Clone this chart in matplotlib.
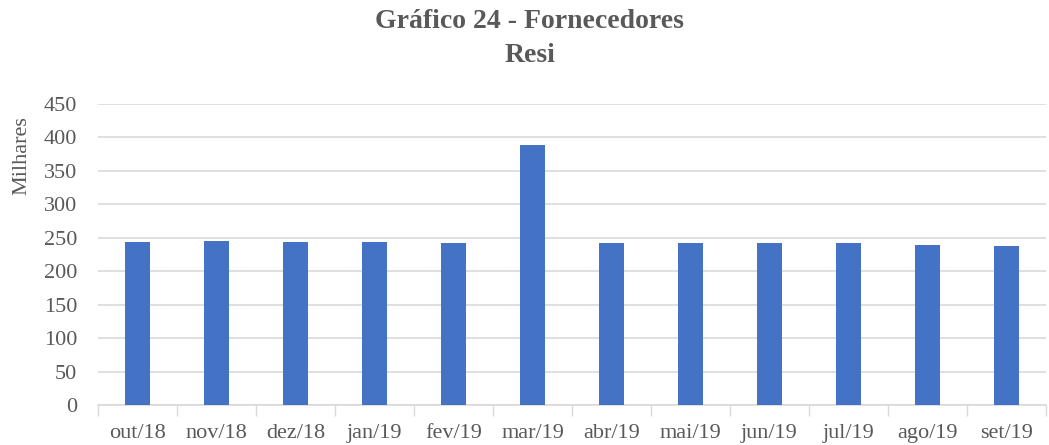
import numpy as np
import matplotlib.pyplot as plt

meses = ['out/18', 'nov/18', 'dez/18', 'jan/19', 'fev/19', 'mar/19',
         'abr/19', 'mai/19', 'jun/19', 'jul/19', 'ago/19', 'set/19']
valores = [244, 245, 243, 243, 242, 388, 242, 242, 242, 242, 239, 238]

plt.rcParams['font.family'] = ['Liberation Serif', 'DejaVu Serif']
cor_texto = '#595959'

fig = plt.figure(figsize=(10.49, 4.45), dpi=100)
ax = fig.add_axes([98 / 1049, 40 / 445, 948 / 1049, 301 / 445])

x = np.arange(len(meses))
ax.bar(x, valores, width=0.32, color='#4472C4', zorder=3)

ax.set_xlim(-0.5, len(meses) - 0.5)
ax.set_ylim(0, 450)
ax.set_yticks(np.arange(0, 451, 50))
ax.grid(axis='y', color='#d9d9d9', linewidth=1.2, zorder=0)

# ticks nas fronteiras das categorias
ax.set_xticks(np.arange(-0.5, len(meses), 1))
ax.set_xticklabels([])
ax.set_xticks(x, minor=True)
ax.set_xticklabels(meses, minor=True)
ax.tick_params(axis='x', which='major', length=8, color='#d9d9d9', width=1)
ax.tick_params(axis='x', which='minor', length=0, pad=14, labelsize=16, labelcolor=cor_texto)
ax.tick_params(axis='y', length=0, pad=15, labelsize=16, labelcolor=cor_texto)

for s in ['top', 'right', 'left']:
    ax.spines[s].set_visible(False)
ax.spines['bottom'].set_color('#d9d9d9')
ax.spines['bottom'].set_linewidth(1.2)

fig.text(22 / 1049, 1 - 156 / 445, 'Milhares', rotation=90, ha='center', va='center',
         fontsize=16, color=cor_texto)
fig.text(0.505, 1 - 22 / 445, 'Gráfico 24 - Fornecedores', ha='center', va='center',
         fontsize=20, fontweight='bold', color=cor_texto)
fig.text(0.505, 1 - 55 / 445, 'Resi', ha='center', va='center',
         fontsize=20, fontweight='bold', color=cor_texto)

fig.savefig('out.png', dpi=100)
